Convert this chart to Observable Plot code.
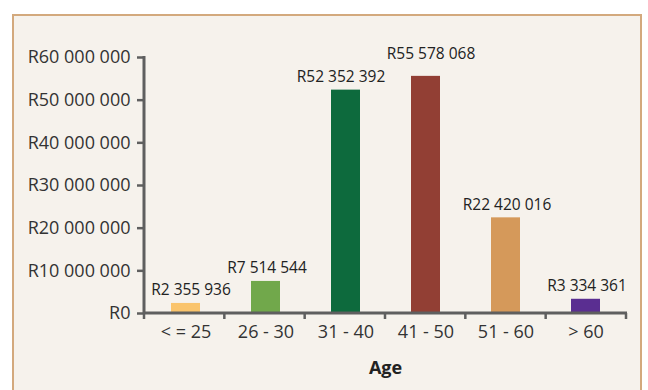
<!DOCTYPE html>
<html>
<head>
<meta charset="utf-8">
<script src="https://cdn.jsdelivr.net/npm/d3@7"></script>
<script src="https://cdn.jsdelivr.net/npm/@observablehq/plot@0.6"></script>
<style>
  html, body { margin: 0; padding: 0; background: #ffffff; width: 648px; height: 390px; overflow: hidden; }
  #frame { position: absolute; left: 12px; top: 14px; width: 626px; height: 400px;
           background: #f6f2ec; border: 2px solid #d3a97d; }
  #chart { position: absolute; left: 0; top: 0; }
  #chart svg { background: transparent; font-family: "Open Sans", sans-serif; }
</style>
</head>
<body>
<div id="frame"></div>
<div id="chart"></div>
<script>
const categories = ["< = 25", "26 - 30", "31 - 40", "41 - 50", "51 - 60", "> 60"];
const values = [2355936, 7514544, 52352392, 55578068, 22420016, 3334361];
const colors = ["#fac46c", "#71a84b", "#0d6a3d", "#923f34", "#d5995a", "#5a2e91"];
const yTicks = [0, 10000000, 20000000, 30000000, 40000000, 50000000, 60000000];
const xLabel = "Age";

const data = categories.map((c, i) => ({age: c, value: values[i], color: colors[i]}));
const fmt = v => "R" + d3.format(",")(v).replace(/,/g, " ");

const W = 648, H = 390, mL = 144, mR = 22, mT = 57, mB = 77;
const axisColor = "#5f5f5f";

// band boundary ticks + axis lines
function boundaryTicks(index, scales, values, dims) {
  const g = d3.create("svg:g");
  const n = categories.length;
  const x0 = dims.marginLeft, x1 = dims.width - dims.marginRight;
  const yb = dims.height - dims.marginBottom;
  const step = (x1 - x0) / n;
  g.append("line").attr("x1", x0).attr("x2", x0).attr("y1", dims.marginTop - 1).attr("y2", yb + 1)
    .attr("stroke", axisColor).attr("stroke-width", 3);
  g.append("line").attr("x1", x0).attr("x2", x1 + 1).attr("y1", yb).attr("y2", yb)
    .attr("stroke", axisColor).attr("stroke-width", 3);
  for (let i = 0; i <= n; i++) {
    const x = x0 + i * step;
    g.append("line").attr("x1", x).attr("x2", x).attr("y1", yb).attr("y2", yb + 6)
      .attr("stroke", axisColor).attr("stroke-width", 2.5);
  }
  return g.node();
}

function labels(filter, dx, dy) {
  return Plot.text(data.filter(filter), {
    x: "age", y: "value", text: d => fmt(d.value),
    dx, dy, fontSize: 15.5, fill: "#222222", fontFamily: "Open Sans", fontWeight: 500
  });
}

const chart = Plot.plot({
  width: W, height: H,
  marginLeft: mL, marginRight: mR, marginTop: mT, marginBottom: mB,
  style: {background: "transparent", fontFamily: "Open Sans"},
  x: {domain: categories, paddingInner: 0.64, paddingOuter: 0.32, label: null},
  y: {domain: [0, 60000000], label: null},
  marks: [
    Plot.barY(data, {x: "age", y: "value", fill: "color"}),
    Plot.axisY({ticks: yTicks, tickFormat: fmt, tickSize: 7, tickPadding: 7,
      stroke: axisColor, strokeWidth: 2.5, fontSize: 18, fill: "#333333", label: null}),
    Plot.axisX({tickSize: 0, tickPadding: 12, fontSize: 18, fill: "#333333", label: null}),
    boundaryTicks,
    labels(d => d.age === "< = 25", 5, -13),
    labels(d => d.age === "31 - 40", -5, -13),
    labels(d => d.age === "41 - 50", 5, -22),
    labels(d => !["< = 25", "31 - 40", "41 - 50"].includes(d.age), 1, -13),
    Plot.text([xLabel], {frameAnchor: "bottom", dy: 60, text: d => d,
      fontSize: 18, fontWeight: "bold", fill: "#222222", fontFamily: "Open Sans"})
  ]
});
document.getElementById("chart").appendChild(chart);
</script>
</body>
</html>
